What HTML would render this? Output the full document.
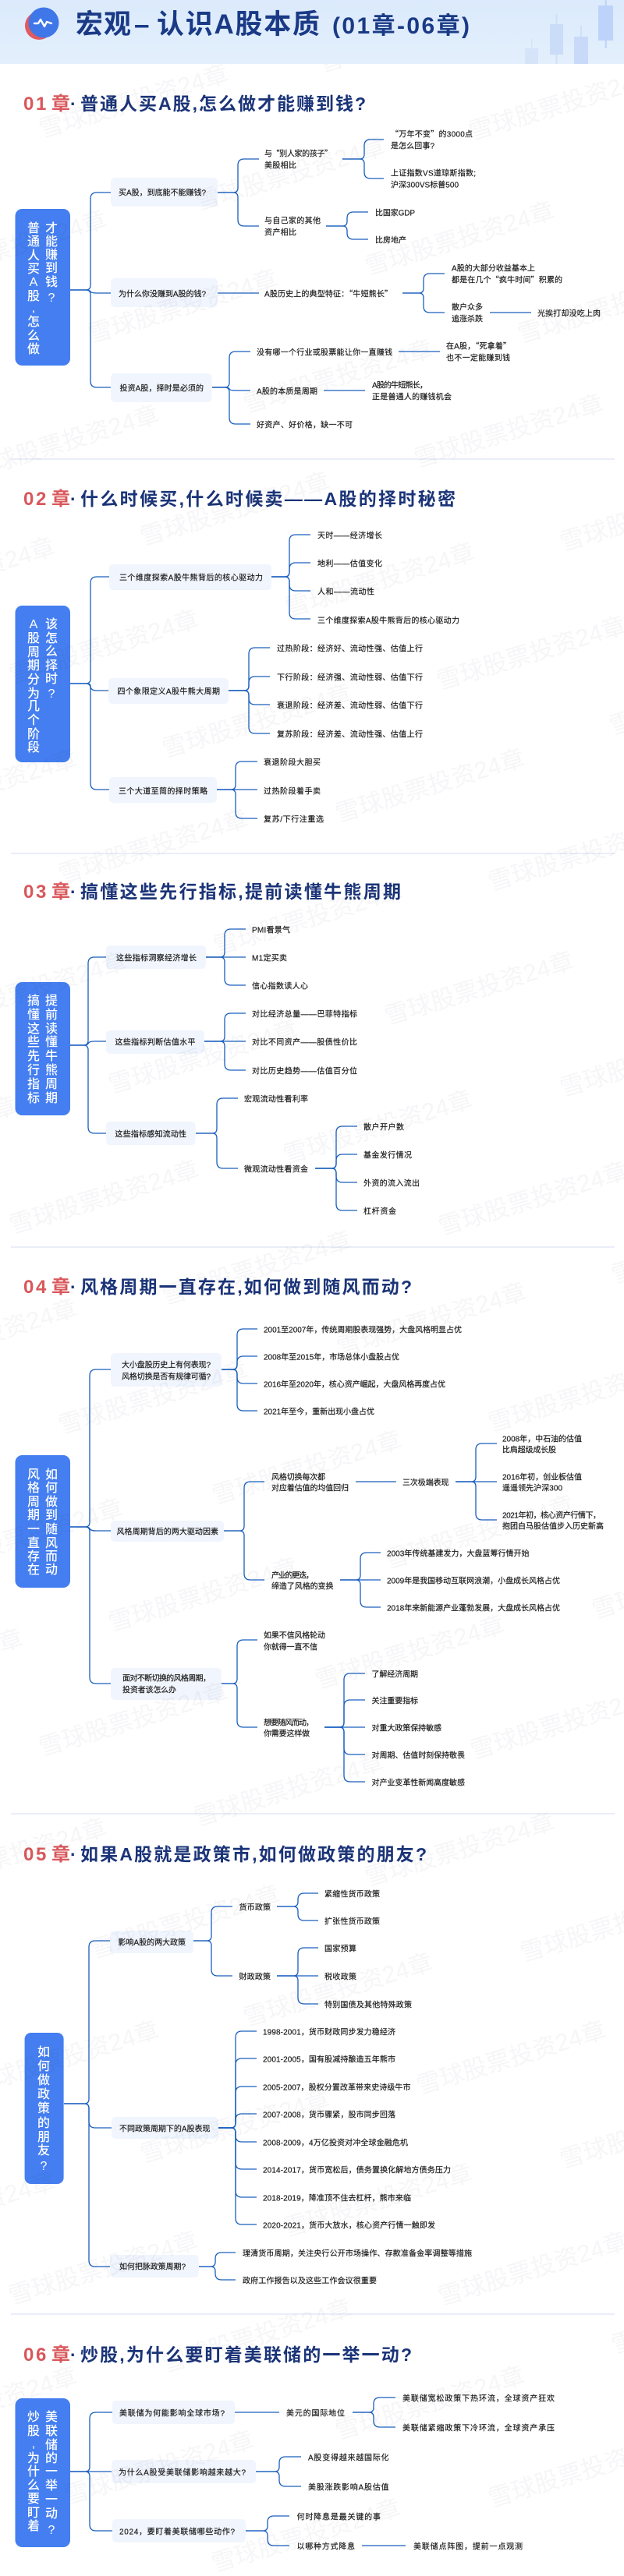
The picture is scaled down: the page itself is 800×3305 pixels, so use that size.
<!DOCTYPE html>
<html lang="zh-CN">
<head>
<meta charset="utf-8">
<title>宏观—认识A股本质</title>
<style>
html,body{margin:0;padding:0;background:#fff}
svg{display:block}
text{font-family:"Liberation Sans","Noto Sans CJK SC",sans-serif}
.t{font-size:10px;fill:#1a1a1a;stroke:#1a1a1a;stroke-width:.18}
.c{font-family:"Noto Sans CJK SC",sans-serif}
.w{font-size:31px;fill:#f6f6f8}
.h{font-size:23px;font-weight:700;fill:#1b3478}
.p{font-size:24px;font-weight:700;fill:#d9575b}
.r{font-size:16px;font-weight:500;fill:#fff;text-anchor:middle}
.b{fill:#f1f5fd}
.m{fill:#447ef0}
.d{stroke:#e3e9f5;stroke-width:1.5}
.l{fill:none;stroke:#1a5fbe;stroke-width:1.3}
.k{font-size:35px;font-weight:700;fill:#1a3a86}
</style>
</head>
<body>
<svg xmlns="http://www.w3.org/2000/svg" width="800" height="3305" viewBox="0 0 800 3305">
<rect width="800" height="3305" fill="#fff"/>

<!-- node boxes & root boxes -->
<rect class="m" x="19.5" y="268" width="70.5" height="201" rx="9"/>
<rect class="b" x="142" y="228" width="137" height="37" rx="5"/>
<rect class="b" x="142" y="357" width="137" height="37" rx="5"/>
<rect class="b" x="142" y="479" width="129.5" height="37" rx="5"/>

<rect class="m" x="19.5" y="777" width="70.5" height="201" rx="9"/>
<rect class="b" x="140" y="724" width="208" height="33" rx="5"/>
<rect class="b" x="139" y="870" width="154" height="33" rx="5"/>
<rect class="b" x="140" y="997" width="138" height="33" rx="5"/>

<rect class="m" x="19.5" y="1260" width="70.5" height="171" rx="9"/>
<rect class="b" x="136" y="1213" width="128" height="30" rx="5"/>
<rect class="b" x="136" y="1322" width="126" height="30" rx="5"/>
<rect class="b" x="136" y="1439" width="114.5" height="30" rx="5"/>

<rect class="m" x="19.5" y="1867" width="70.5" height="170" rx="9"/>
<rect class="b" x="142" y="1736" width="142" height="43" rx="5"/>
<rect class="b" x="142" y="1951" width="145" height="27" rx="5"/>
<rect class="b" x="142" y="2140" width="142" height="41" rx="5"/>

<rect class="m" x="31.6" y="2608" width="50" height="194" rx="8"/>
<rect class="b" x="141" y="2477" width="107" height="29" rx="5"/>
<rect class="b" x="143" y="2716" width="137" height="28" rx="5"/>
<rect class="b" x="141" y="2893" width="113.5" height="29" rx="5"/>

<rect class="m" x="19.5" y="3077" width="70.5" height="191" rx="9"/>
<rect class="b" x="144" y="3080" width="157" height="30" rx="5"/>
<rect class="b" x="143" y="3156" width="185" height="30" rx="5"/>
<rect class="b" x="144" y="3232" width="171" height="30" rx="5"/>

<!-- dividers -->
<line class="d" x1="14" x2="788" y1="589" y2="589"/>
<line class="d" x1="14" x2="788" y1="1095" y2="1095"/>
<line class="d" x1="14" x2="788" y1="1600" y2="1600"/>
<line class="d" x1="14" x2="788" y1="2327" y2="2327"/>
<line class="d" x1="14" x2="788" y1="2969" y2="2969"/>

<!-- connectors -->
<g class="l">
<!-- S1 -->
<path d="M90 372H110Q116 372 116 366V255Q116 247 124 247H142"/>
<path d="M90 372H110Q115 372 116 374Q117 376 124 376H142"/>
<path d="M90 372H110Q116 372 116 378V489Q116 497 124 497H142"/>
<path d="M279 247H299Q305 247 305 241V212Q305 204 313 204H332"/>
<path d="M279 247H299Q305 247 305 253V282Q305 290 313 290H332"/>
<path d="M439 204H461Q467 204 467 198V187Q467 179 475 179H492"/>
<path d="M439 204H461Q467 204 467 210V221Q467 229 475 229H492"/>
<path d="M418 290H439Q445 290 445 284V280Q445 272 453 272H472"/>
<path d="M418 290H439Q445 290 445 296V299Q445 307 453 307H472"/>
<path d="M279 376H332"/>
<path d="M516 376H537Q543 376 543 370V359Q543 351 551 351H570"/>
<path d="M516 376H537Q543 376 543 382V393Q543 401 551 401H570"/>
<path d="M628 401H681"/>
<path d="M272 497H288Q294 497 294 491V459Q294 451 302 451H321"/>
<path d="M272 497H288Q293 497 294 499Q295 501 302 501H321"/>
<path d="M272 497H288Q294 497 294 503V536Q294 544 302 544H321"/>
<path d="M511 451H564"/>
<path d="M415 501H468"/>
<!-- S2 -->
<path d="M90 877H110Q116 877 116 871V748Q116 740 124 740H140"/>
<path d="M90 877H110Q116 877 116 880Q116 886 124 886H139"/>
<path d="M90 877H110Q116 877 116 883V1005Q116 1013 124 1013H140"/>
<path d="M348 740H365Q371 740 371 734V694Q371 686 379 686H398"/>
<path d="M348 740H365Q371 740 371 734V730Q371 722 379 722H398"/>
<path d="M348 740H365Q371 740 371 746V750Q371 758 379 758H398"/>
<path d="M348 740H365Q371 740 371 746V786Q371 794 379 794H398"/>
<path d="M293 886H313Q319 886 319 880V839Q319 831 327 831H346"/>
<path d="M293 886H313Q319 886 319 880V876Q319 868 327 868H346"/>
<path d="M293 886H313Q319 886 319 892V896Q319 904 327 904H346"/>
<path d="M293 886H313Q319 886 319 892V933Q319 941 327 941H346"/>
<path d="M278 1013H296Q302 1013 302 1007V985Q302 977 310 977H330"/>
<path d="M278 1013H330"/>
<path d="M278 1013H296Q302 1013 302 1019V1042Q302 1050 310 1050H330"/>
<!-- S3 -->
<path d="M90 1341H107Q113 1341 113 1335V1236Q113 1228 121 1228H136"/>
<path d="M90 1341H107Q112 1341 113 1339Q114 1336 121 1336H136"/>
<path d="M90 1341H107Q113 1341 113 1347V1446Q113 1454 121 1454H136"/>
<path d="M264 1228H282Q288 1228 288 1222V1200Q288 1192 296 1192H315"/>
<path d="M264 1228H315"/>
<path d="M264 1228H282Q288 1228 288 1234V1256Q288 1264 296 1264H315"/>
<path d="M262 1336H282Q288 1336 288 1330V1308Q288 1300 296 1300H315"/>
<path d="M262 1336H315"/>
<path d="M262 1336H282Q288 1336 288 1342V1365Q288 1373 296 1373H315"/>
<path d="M251 1454H272Q278 1454 278 1448V1417Q278 1409 286 1409H305"/>
<path d="M251 1454H272Q278 1454 278 1460V1491Q278 1499 286 1499H305"/>
<path d="M404 1499H425Q431 1499 431 1493V1453Q431 1445 439 1445H458"/>
<path d="M404 1499H425Q431 1499 431 1493V1489Q431 1481 439 1481H458"/>
<path d="M404 1499H425Q431 1499 431 1505V1509Q431 1517 439 1517H458"/>
<path d="M404 1499H425Q431 1499 431 1505V1545Q431 1553 439 1553H458"/>
<!-- S4 -->
<path d="M90 1959H109Q115 1959 115 1953V1765Q115 1757 123 1757H142"/>
<path d="M90 1959H109Q114 1959 115 1961Q116 1964 123 1964H142"/>
<path d="M90 1959H109Q115 1959 115 1965V2152Q115 2160 123 2160H142"/>
<path d="M284 1757H298Q304 1757 304 1751V1713Q304 1705 312 1705H330"/>
<path d="M284 1757H298Q304 1757 304 1751V1748Q304 1740 312 1740H330"/>
<path d="M284 1757H298Q304 1757 304 1763V1767Q304 1775 312 1775H330"/>
<path d="M284 1757H298Q304 1757 304 1763V1802Q304 1810 312 1810H330"/>
<path d="M287 1964H307Q313 1964 313 1958V1909Q313 1901 321 1901H339"/>
<path d="M287 1964H307Q313 1964 313 1970V2019Q313 2027 321 2027H339"/>
<path d="M456 1901H508"/>
<path d="M584 1901H604Q610 1901 610 1895V1860Q610 1852 618 1852H637"/>
<path d="M584 1901H637"/>
<path d="M584 1901H604Q610 1901 610 1907V1942Q610 1950 618 1950H637"/>
<path d="M436 2027H456Q462 2027 462 2021V2000Q462 1992 470 1992H488"/>
<path d="M436 2027H488"/>
<path d="M436 2027H456Q462 2027 462 2033V2054Q462 2062 470 2062H488"/>
<path d="M284 2160H298Q304 2160 304 2154V2112Q304 2104 312 2104H330"/>
<path d="M284 2160H298Q304 2160 304 2166V2208Q304 2216 312 2216H330"/>
<path d="M416 2216H435Q441 2216 441 2210V2155Q441 2147 449 2147H468"/>
<path d="M416 2216H435Q441 2216 441 2210V2189Q441 2181 449 2181H468"/>
<path d="M416 2216H468"/>
<path d="M416 2216H435Q441 2216 441 2222V2243Q441 2251 449 2251H468"/>
<path d="M416 2216H435Q441 2216 441 2222V2278Q441 2286 449 2286H468"/>
<!-- S5 -->
<path d="M82 2699H108Q114 2699 114 2693V2498Q114 2490 122 2490H141"/>
<path d="M82 2699H108Q114 2699 114 2705V2722Q114 2730 122 2730H143"/>
<path d="M82 2699H108Q114 2699 114 2705V2900Q114 2908 122 2908H141"/>
<path d="M248 2490H265Q271 2490 271 2484V2454Q271 2446 279 2446H298"/>
<path d="M248 2490H265Q271 2490 271 2496V2527Q271 2535 279 2535H298"/>
<path d="M355 2446H376Q382 2446 382 2440V2437Q382 2429 390 2429H408"/>
<path d="M355 2446H376Q382 2446 382 2452V2456Q382 2464 390 2464H408"/>
<path d="M355 2535H376Q382 2535 382 2529V2507Q382 2499 390 2499H408"/>
<path d="M355 2535H408"/>
<path d="M355 2535H376Q382 2535 382 2541V2563Q382 2571 390 2571H408"/>
<path d="M280 2730H296Q302 2730 302 2724V2614Q302 2606 310 2606H329"/>
<path d="M280 2730H296Q302 2730 302 2724V2649Q302 2641 310 2641H329"/>
<path d="M280 2730H296Q302 2730 302 2724V2685Q302 2677 310 2677H329"/>
<path d="M280 2730H296Q302 2730 302 2724V2720Q302 2712 310 2712H329"/>
<path d="M280 2730H296Q302 2730 302 2736V2740Q302 2748 310 2748H329"/>
<path d="M280 2730H296Q302 2730 302 2736V2775Q302 2783 310 2783H329"/>
<path d="M280 2730H296Q302 2730 302 2736V2811Q302 2819 310 2819H329"/>
<path d="M280 2730H296Q302 2730 302 2736V2846Q302 2854 310 2854H329"/>
<path d="M255 2908H270Q276 2908 276 2902V2898Q276 2890 284 2890H302"/>
<path d="M255 2908H270Q276 2908 276 2914V2917Q276 2925 284 2925H302"/>
<!-- S6 -->
<path d="M90 3171H109Q115 3171 115 3165V3103Q115 3095 123 3095H144"/>
<path d="M90 3171H143"/>
<path d="M90 3171H109Q115 3171 115 3177V3239Q115 3247 123 3247H144"/>
<path d="M301 3095H358"/>
<path d="M452 3095H473Q479 3095 479 3089V3084Q479 3076 487 3076H507"/>
<path d="M452 3095H473Q479 3095 479 3101V3106Q479 3114 487 3114H507"/>
<path d="M328 3171H352Q358 3171 358 3165V3160Q358 3152 366 3152H386"/>
<path d="M328 3171H352Q358 3171 358 3177V3182Q358 3190 366 3190H386"/>
<path d="M315 3247H337Q343 3247 343 3241V3236Q343 3228 351 3228H371"/>
<path d="M315 3247H337Q343 3247 343 3253V3258Q343 3266 351 3266H371"/>
<path d="M464 3266H520"/>
</g>

<!-- root labels -->
<text class="r" x="43 43 43 43 43 43 43 43 43 43" y="298 315 333 350 367 385 400 418 436 453">普通人买A股,怎么做</text>
<text class="r" x="66 66 66 66 66 66" y="298 315 332 349 367 387">才能赚到钱?</text>
<text class="r" x="43 43 43 43 43 43 43 43 43 43" y="806 824 842 859 877 895 911 929 947 964">A股周期分为几个阶段</text>
<text class="r" x="66 66 66 66 66 66" y="806 824 841 859 876 895">该怎么择时?</text>
<text class="r" x="43 43 43 43 43 43 43 43" y="1289 1307 1325 1342 1360 1378 1396 1414">搞懂这些先行指标</text>
<text class="r" x="66 66 66 66 66 66 66 66" y="1289 1307 1325 1342 1360 1378 1396 1414">提前读懂牛熊周期</text>
<text class="r" x="43 43 43 43 43 43 43 43" y="1897 1914 1932 1949 1967 1985 2002 2019">风格周期一直存在</text>
<text class="r" x="66 66 66 66 66 66 66 66" y="1897 1914 1932 1949 1967 1985 2002 2019">如何做到随风而动</text>
<text class="r" x="56 56 56 56 56 56 56 56 56" y="2638 2656 2674 2692 2710 2729 2747 2764 2784">如何做政策的朋友?</text>
<text class="r" x="43 43 43 43 43 43 43 43 43" y="3106 3124 3140 3159 3176 3194 3211 3229 3246">炒股,为什么要盯着</text>
<text class="r" x="66 66 66 66 66 66 66 66 66" y="3106 3124 3142 3159 3176 3194 3212 3230 3251">美联储的一举一动?</text>

<!-- section titles -->
<text class="p" x="30 46 66" y="141">01章</text><text class="h" x="90" y="141">·</text>
<text class="h" x="103" y="141" textLength="366">普通人买A股,怎么做才能赚到钱?</text>
<text class="p" x="30 46 66" y="648">02章</text><text class="h" x="90" y="648">·</text>
<text class="h" x="103" y="648" textLength="481">什么时候买,什么时候卖——A股的择时秘密</text>
<text class="p" x="30 46 66" y="1152">03章</text><text class="h" x="90" y="1152">·</text>
<text class="h" x="103" y="1152" textLength="411">搞懂这些先行指标,提前读懂牛熊周期</text>
<text class="p" x="30 46 66" y="1659">04章</text><text class="h" x="90" y="1659">·</text>
<text class="h" x="103" y="1659" textLength="425">风格周期一直存在,如何做到随风而动?</text>
<text class="p" x="30 46 66" y="2387">05章</text><text class="h" x="90" y="2387">·</text>
<text class="h" x="103" y="2387" textLength="444">如果A股就是政策市,如何做政策的朋友?</text>
<text class="p" x="30 46 66" y="3029">06章</text><text class="h" x="90" y="3029">·</text>
<text class="h" x="103" y="3029" textLength="425">炒股,为什么要盯着美联储的一举一动?</text>

<!-- S1 labels -->
<text class="t" x="152" y="250.5" textLength="112">买A股，到底能不能赚钱?</text>
<text class="t" x="152" y="380.5" textLength="112">为什么你没赚到A股的钱?</text>
<text class="t" x="153.5" y="501.5" textLength="107.5">投资A股，择时是必须的</text>
<text class="t" x="339" y="200.5" textLength="87">与<tspan class="c">“</tspan>别人家的孩子<tspan class="c">”</tspan></text>
<text class="t" x="339" y="215.5" textLength="41">美股相比</text>
<text class="t" x="339" y="286.5" textLength="72">与自己家的其他</text>
<text class="t" x="339" y="301.5" textLength="41">资产相比</text>
<text class="t" x="501" y="175.5" textLength="105"><tspan class="c">“</tspan>万年不变<tspan class="c">”</tspan>的3000点</text>
<text class="t" x="501" y="190.5" textLength="56">是怎么回事?</text>
<text class="t" x="501" y="225.5" textLength="109">上证指数VS道琼斯指数;</text>
<text class="t" x="501" y="240.5" textLength="87">沪深300VS标普500</text>
<text class="t" x="481" y="276.5" textLength="51">比国家GDP</text>
<text class="t" x="481" y="311.5" textLength="40">比房地产</text>
<text class="t" x="339" y="380.5" textLength="164">A股历史上的典型特征：<tspan class="c">“</tspan>牛短熊长<tspan class="c">”</tspan></text>
<text class="t" x="579" y="347.5" textLength="107">A股的大部分收益基本上</text>
<text class="t" x="579" y="362.5" textLength="142">都是在几个<tspan class="c">“</tspan>疯牛时间<tspan class="c">”</tspan>积累的</text>
<text class="t" x="579" y="397.5" textLength="40">散户众多</text>
<text class="t" x="579" y="412.5" textLength="40">追涨杀跌</text>
<text class="t" x="689" y="405.5" textLength="81">光挨打却没吃上肉</text>
<text class="t" x="329" y="455.5" textLength="174">没有哪一个行业或股票能让你一直赚钱</text>
<text class="t" x="329" y="505.5" textLength="78">A股的本质是周期</text>
<text class="t" x="329" y="548.5" textLength="123">好资产、好价格，缺一不可</text>
<text class="t" x="572" y="447.5" textLength="83">在A股，<tspan class="c">“</tspan>死拿着<tspan class="c">”</tspan></text>
<text class="t" x="572" y="462.5" textLength="82">也不一定能赚到钱</text>
<text class="t" x="477" y="497.5" textLength="71">A股的牛短熊长，</text>
<text class="t" x="477" y="512.5" textLength="102">正是普通人的赚钱机会</text>

<!-- S2 labels -->
<text class="t" x="153" y="744.5" textLength="184">三个维度探索A股牛熊背后的核心驱动力</text>
<text class="t" x="150.5" y="890.5" textLength="131.5">四个象限定义A股牛熊大周期</text>
<text class="t" x="152" y="1018.5" textLength="114">三个大道至简的择时策略</text>
<text class="t" x="407" y="690.5" textLength="83">天时——经济增长</text>
<text class="t" x="407" y="726.5" textLength="83">地利——估值变化</text>
<text class="t" x="407" y="762.5" textLength="73">人和——流动性</text>
<text class="t" x="407" y="799.5" textLength="182">三个维度探索A股牛熊背后的核心驱动力</text>
<text class="t" x="355" y="835.5" textLength="187">过热阶段：经济好、流动性强、估值上行</text>
<text class="t" x="355" y="872.5" textLength="187">下行阶段：经济强、流动性弱、估值下行</text>
<text class="t" x="355" y="908.5" textLength="187">衰退阶段：经济差、流动性弱、估值下行</text>
<text class="t" x="355" y="945.5" textLength="187">复苏阶段：经济差、流动性强、估值上行</text>
<text class="t" x="338" y="981.5" textLength="73">衰退阶段大胆买</text>
<text class="t" x="338" y="1018.5" textLength="73">过热阶段着手卖</text>
<text class="t" x="338" y="1054.5" textLength="77">复苏/下行注重选</text>

<!-- S3 labels -->
<text class="t" x="149" y="1232.5" textLength="103">这些指标洞察经济增长</text>
<text class="t" x="147.5" y="1340.5" textLength="103">这些指标判断估值水平</text>
<text class="t" x="147.5" y="1458.5" textLength="91.5">这些指标感知流动性</text>
<text class="t" x="323" y="1196.5" textLength="49">PMI看景气</text>
<text class="t" x="323" y="1232.5" textLength="45">M1定买卖</text>
<text class="t" x="323" y="1268.5" textLength="72">信心指数读人心</text>
<text class="t" x="323" y="1304.5" textLength="135">对比经济总量——巴菲特指标</text>
<text class="t" x="323" y="1340.5" textLength="135">对比不同资产——股债性价比</text>
<text class="t" x="323" y="1377.5" textLength="135">对比历史趋势——估值百分位</text>
<text class="t" x="313" y="1413.5" textLength="82">宏观流动性看利率</text>
<text class="t" x="313" y="1503.5" textLength="82">微观流动性看资金</text>
<text class="t" x="466" y="1449.5" textLength="52">散户开户数</text>
<text class="t" x="466" y="1485.5" textLength="62">基金发行情况</text>
<text class="t" x="466" y="1521.5" textLength="72">外资的流入流出</text>
<text class="t" x="466" y="1557.5" textLength="42">杠杆资金</text>

<!-- S4 labels -->
<text class="t" x="156" y="1754.5" textLength="114">大小盘股历史上有何表现?</text>
<text class="t" x="156" y="1769.5" textLength="114">风格切换是否有规律可循?</text>
<text class="t" x="149.5" y="1968.5" textLength="130.5">风格周期背后的两大驱动因素</text>
<text class="t" x="157" y="2156.5" textLength="113">面对不断切换的风格周期，</text>
<text class="t" x="157" y="2171.5" textLength="69">投资者该怎么办</text>
<text class="t" x="338" y="1709.5" textLength="254">2001至2007年，传统周期股表现强势，大盘风格明显占优</text>
<text class="t" x="338" y="1744.5" textLength="174">2008年至2015年，市场总体小盘股占优</text>
<text class="t" x="338" y="1779.5" textLength="233">2016年至2020年，核心资产崛起，大盘风格再度占优</text>
<text class="t" x="338" y="1814.5" textLength="142">2021年至今，重新出现小盘占优</text>
<text class="t" x="348" y="1898.5" textLength="69">风格切换每次都</text>
<text class="t" x="348" y="1912.5" textLength="99">对应着估值的均值回归</text>
<text class="t" x="348" y="2024.5" textLength="54">产业的更迭，</text>
<text class="t" x="348" y="2038.5" textLength="79.5">缔造了风格的变换</text>
<text class="t" x="516" y="1905.5" textLength="59.5">三次极端表现</text>
<text class="t" x="644" y="1849.5" textLength="102">2008年，中石油的估值</text>
<text class="t" x="644" y="1863.5" textLength="69">比肩超级成长股</text>
<text class="t" x="644" y="1898.5" textLength="102">2016年初，创业板估值</text>
<text class="t" x="644" y="1912.5" textLength="77">遥遥领先沪深300</text>
<text class="t" x="644" y="1947.5" textLength="126">2021年初，核心资产行情下，</text>
<text class="t" x="644" y="1961.5" textLength="130">抱团白马股估值步入历史新高</text>
<text class="t" x="496" y="1996.5" textLength="182.5">2003年传统基建发力，大盘蓝筹行情开始</text>
<text class="t" x="496" y="2031.5" textLength="222">2009年是我国移动互联网浪潮，小盘成长风格占优</text>
<text class="t" x="496" y="2066.5" textLength="222">2018年来新能源产业蓬勃发展，大盘成长风格占优</text>
<text class="t" x="338" y="2101.5" textLength="79">如果不信风格轮动</text>
<text class="t" x="338" y="2116.5" textLength="69">你就得一直不信</text>
<text class="t" x="338" y="2213.5" textLength="64">想要随风而动，</text>
<text class="t" x="338" y="2227.5" textLength="59">你需要这样做</text>
<text class="t" x="476.5" y="2151.5" textLength="59.5">了解经济周期</text>
<text class="t" x="476.5" y="2185.5" textLength="59.5">关注重要指标</text>
<text class="t" x="476.5" y="2220.5" textLength="89.5">对重大政策保持敏感</text>
<text class="t" x="476.5" y="2255.5" textLength="119.5">对周期、估值时刻保持敬畏</text>
<text class="t" x="476.5" y="2290.5" textLength="119.5">对产业变革性新闻高度敏感</text>

<!-- S5 labels -->
<text class="t" x="151.5" y="2495.5" textLength="86.5">影响A股的两大政策</text>
<text class="t" x="153" y="2734.5" textLength="116.5">不同政策周期下的A股表现</text>
<text class="t" x="153" y="2911.5" textLength="85">如何把脉政策周期?</text>
<text class="t" x="306.5" y="2450.5" textLength="40.5">货币政策</text>
<text class="t" x="306.5" y="2539.5" textLength="40.5">财政政策</text>
<text class="t" x="416" y="2433.5" textLength="71">紧缩性货币政策</text>
<text class="t" x="416" y="2468.5" textLength="71">扩张性货币政策</text>
<text class="t" x="416" y="2503.5" textLength="41">国家预算</text>
<text class="t" x="416" y="2539.5" textLength="41">税收政策</text>
<text class="t" x="416" y="2575.5" textLength="112">特别国债及其他特殊政策</text>
<text class="t" x="337" y="2610.5" textLength="170">1998-2001，货币财政同步发力稳经济</text>
<text class="t" x="337" y="2645.5" textLength="170">2001-2005，国有股减持酿造五年熊市</text>
<text class="t" x="337" y="2681.5" textLength="189.5">2005-2007，股权分置改革带来史诗级牛市</text>
<text class="t" x="337" y="2716.5" textLength="170">2007-2008，货币骤紧，股市同步回落</text>
<text class="t" x="337" y="2752.5" textLength="186">2008-2009，4万亿投资对冲全球金融危机</text>
<text class="t" x="337" y="2787.5" textLength="241">2014-2017，货币宽松后，债务置换化解地方债务压力</text>
<text class="t" x="337" y="2823.5" textLength="190">2018-2019，降准顶不住去杠杆，熊市来临</text>
<text class="t" x="337" y="2858.5" textLength="221">2020-2021，货币大放水，核心资产行情一触即发</text>
<text class="t" x="311" y="2894.5" textLength="294">理清货币周期，关注央行公开市场操作、存款准备金率调整等措施</text>
<text class="t" x="311" y="2929.5" textLength="172">政府工作报告以及这些工作会议很重要</text>

<!-- S6 labels -->
<text class="t" x="153" y="3099.5" textLength="135">美联储为何能影响全球市场?</text>
<text class="t" x="152" y="3175.5" textLength="163">为什么A股受美联储影响越来越大?</text>
<text class="t" x="153" y="3251.5" textLength="148">2024，要盯着美联储哪些动作?</text>
<text class="t" x="367" y="3099.5" textLength="75">美元的国际地位</text>
<text class="t" x="516" y="3080.5" textLength="195">美联储宽松政策下热环流，全球资产狂欢</text>
<text class="t" x="516" y="3118.5" textLength="195">美联储紧缩政策下冷环流，全球资产承压</text>
<text class="t" x="395" y="3156.5" textLength="103.5">A股变得越来越国际化</text>
<text class="t" x="395" y="3194.5" textLength="103.5">美股涨跌影响A股估值</text>
<text class="t" x="380.5" y="3232.5" textLength="107.5">何时降息是最关键的事</text>
<text class="t" x="380.5" y="3270.5" textLength="74.5">以哪种方式降息</text>
<text class="t" x="530" y="3270.5" textLength="140">美联储点阵图，提前一点观测</text>

<!-- watermarks -->
<g style="mix-blend-mode:multiply">
<text class="w" transform="translate(54 177) rotate(-17)">雪球股票投资24章</text>
<text class="w" transform="translate(255 270) rotate(-17)">雪球股票投资24章</text>
<text class="w" transform="translate(605 180) rotate(-17)">雪球股票投资24章</text>
<text class="w" transform="translate(413 93) rotate(-17)">雪球股票投资24章</text>
<text class="w" transform="translate(-102 364) rotate(-17)">雪球股票投资24章</text>
<text class="w" transform="translate(472 353) rotate(-17)">雪球股票投资24章</text>
<text class="w" transform="translate(117 440) rotate(-17)">雪球股票投资24章</text>
<text class="w" transform="translate(668 440) rotate(-17)">雪球股票投资24章</text>
<text class="w" transform="translate(316 530) rotate(-17)">雪球股票投资24章</text>
<text class="w" transform="translate(-35 614) rotate(-17)">雪球股票投资24章</text>
<text class="w" transform="translate(535 600) rotate(-17)">雪球股票投资24章</text>
<text class="w" transform="translate(184 700) rotate(-17)">雪球股票投资24章</text>
<text class="w" transform="translate(722 707) rotate(-17)">雪球股票投资24章</text>
<text class="w" transform="translate(370 791) rotate(-17)">雪球股票投资24章</text>
<text class="w" transform="translate(16 877) rotate(-17)">雪球股票投资24章</text>
<text class="w" transform="translate(564 885) rotate(-17)">雪球股票投资24章</text>
<text class="w" transform="translate(-168 784) rotate(-17)">雪球股票投资24章</text>
<text class="w" transform="translate(212 972) rotate(-17)">雪球股票投资24章</text>
<text class="w" transform="translate(785 943) rotate(-17)">雪球股票投资24章</text>
<text class="w" transform="translate(434 1055) rotate(-17)">雪球股票投资24章</text>
<text class="w" transform="translate(79 1133) rotate(-17)">雪球股票投资24章</text>
<text class="w" transform="translate(630 1143) rotate(-17)">雪球股票投资24章</text>
<text class="w" transform="translate(-140 1056) rotate(-17)">雪球股票投资24章</text>
<text class="w" transform="translate(278 1225) rotate(-17)">雪球股票投资24章</text>
<text class="w" transform="translate(-76 1316) rotate(-17)">雪球股票投资24章</text>
<text class="w" transform="translate(497 1315) rotate(-17)">雪球股票投资24章</text>
<text class="w" transform="translate(143 1403) rotate(-17)">雪球股票投资24章</text>
<text class="w" transform="translate(722 1407) rotate(-17)">雪球股票投资24章</text>
<text class="w" transform="translate(367 1493) rotate(-17)">雪球股票投资24章</text>
<text class="w" transform="translate(-217 1501) rotate(-17)">雪球股票投资24章</text>
<text class="w" transform="translate(16 1583) rotate(-17)">雪球股票投资24章</text>
<text class="w" transform="translate(566 1585) rotate(-17)">雪球股票投资24章</text>
<text class="w" transform="translate(212 1674) rotate(-17)">雪球股票投资24章</text>
<text class="w" transform="translate(788 1647) rotate(-17)">雪球股票投资24章</text>
<text class="w" transform="translate(436 1740) rotate(-17)">雪球股票投资24章</text>
<text class="w" transform="translate(-140 1761) rotate(-17)">雪球股票投资24章</text>
<text class="w" transform="translate(79 1840) rotate(-17)">雪球股票投资24章</text>
<text class="w" transform="translate(630 1837) rotate(-17)">雪球股票投资24章</text>
<text class="w" transform="translate(276 1930) rotate(-17)">雪球股票投资24章</text>
<text class="w" transform="translate(497 2013) rotate(-17)">雪球股票投资24章</text>
<text class="w" transform="translate(-81 2017) rotate(-17)">雪球股票投资24章</text>
<text class="w" transform="translate(763 2077) rotate(-17)">雪球股票投资24章</text>
<text class="w" transform="translate(143 2093) rotate(-17)">雪球股票投资24章</text>
<text class="w" transform="translate(408 2167) rotate(-17)">雪球股票投资24章</text>
<text class="w" transform="translate(-209 2184) rotate(-17)">雪球股票投资24章</text>
<text class="w" transform="translate(54 2253) rotate(-17)">雪球股票投资24章</text>
<text class="w" transform="translate(607 2257) rotate(-17)">雪球股票投资24章</text>
<text class="w" transform="translate(253 2343) rotate(-17)">雪球股票投资24章</text>
<text class="w" transform="translate(-102 2427) rotate(-17)">雪球股票投资24章</text>
<text class="w" transform="translate(472 2420) rotate(-17)">雪球股票投资24章</text>
<text class="w" transform="translate(120 2513) rotate(-17)">雪球股票投资24章</text>
<text class="w" transform="translate(671 2517) rotate(-17)">雪球股票投资24章</text>
<text class="w" transform="translate(316 2600) rotate(-17)">雪球股票投资24章</text>
<text class="w" transform="translate(538 2687) rotate(-17)">雪球股票投资24章</text>
<text class="w" transform="translate(-35 2687) rotate(-17)">雪球股票投资24章</text>
<text class="w" transform="translate(184 2775) rotate(-17)">雪球股票投资24章</text>
<text class="w" transform="translate(722 2782) rotate(-17)">雪球股票投资24章</text>
<text class="w" transform="translate(367 2870) rotate(-17)">雪球股票投资24章</text>
<text class="w" transform="translate(-168 2881) rotate(-17)">雪球股票投资24章</text>
<text class="w" transform="translate(15 2957) rotate(-17)">雪球股票投资24章</text>
<text class="w" transform="translate(566 2958) rotate(-17)">雪球股票投资24章</text>
<text class="w" transform="translate(212 3044) rotate(-17)">雪球股票投资24章</text>
<text class="w" transform="translate(788 3020) rotate(-17)">雪球股票投资24章</text>
<text class="w" transform="translate(434 3130) rotate(-17)">雪球股票投资24章</text>
<text class="w" transform="translate(-140 3131) rotate(-17)">雪球股票投资24章</text>
<text class="w" transform="translate(87 3213) rotate(-17)">雪球股票投资24章</text>
<text class="w" transform="translate(630 3217) rotate(-17)">雪球股票投资24章</text>
<text class="w" transform="translate(275 3300) rotate(-17)">雪球股票投资24章</text>
</g>

<!-- header -->
<defs><linearGradient id="hg" x1="0" y1="0" x2="0" y2="1"><stop offset="0" stop-color="#dbeafc"/><stop offset="1" stop-color="#e3effc"/></linearGradient></defs>
<rect x="0" y="0" width="800" height="82" fill="url(#hg)"/>
<rect x="681" y="50" width="1.5" height="32" fill="#d5e4f8"/>
<rect x="673" y="62" width="17" height="20" fill="#d5e4f8"/>
<rect x="712.5" y="18" width="2" height="64" fill="#cfdff8"/>
<rect x="705" y="31" width="17" height="39" fill="#cbdcf8"/>
<rect x="744" y="33" width="2" height="49" fill="#cfdff8"/>
<rect x="736" y="47" width="18" height="35" fill="#c8daf8"/>
<rect x="775.5" y="0" width="2.5" height="62" fill="#c4d7f8"/>
<rect x="767" y="7" width="19" height="45" fill="#bdd3fa"/>
<circle cx="50" cy="33" r="18" fill="#e05a5e"/>
<circle cx="56" cy="29" r="19.5" fill="#3f76e8"/>
<polyline points="44,30 49,30 52,25 57,34 60,28 66,30" fill="none" stroke="#fff" stroke-width="2.4" stroke-linejoin="round" stroke-linecap="round"/>
<text class="k" x="97" y="43" textLength="71">宏观</text>
<text class="k" x="172" y="43">–</text>
<text class="k" x="201" y="43" textLength="209">认识A股本质</text>
<text class="k" style="font-size:30px" x="426" y="43" textLength="176">(01章-06章)</text>
</svg>
</body>
</html>
